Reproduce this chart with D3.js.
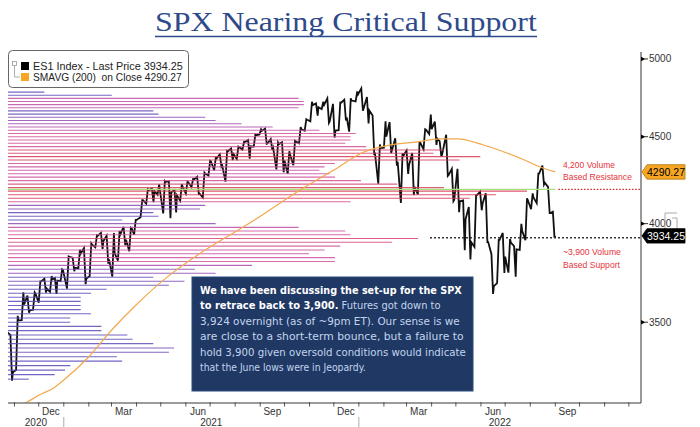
<!DOCTYPE html>
<html>
<head>
<meta charset="utf-8">
<script src="https://cdn.jsdelivr.net/npm/d3@7"></script>
<style>
body { margin: 0; background: #fff; }
svg { display: block; }
text { font-family: "Liberation Sans", Arial, sans-serif; }
</style>
</head>
<body>
<script>
//Width and height
const w = 700;
const h = 427;

//ES1 weekly bars (week ending date, high, low, close)
const startDate = "2020-10-23";
const startClose = 3453;
const weekEnd = ["2020-10-30","2020-11-06","2020-11-13","2020-11-20","2020-11-27","2020-12-04","2020-12-11","2020-12-18","2020-12-24","2020-12-31",
  "2021-01-08","2021-01-15","2021-01-22","2021-01-29","2021-02-05","2021-02-12","2021-02-19","2021-02-26","2021-03-05","2021-03-12","2021-03-19","2021-03-26",
  "2021-04-01","2021-04-09","2021-04-16","2021-04-23","2021-04-30","2021-05-07","2021-05-14","2021-05-21","2021-05-28","2021-06-04","2021-06-11","2021-06-18","2021-06-25",
  "2021-07-02","2021-07-09","2021-07-16","2021-07-23","2021-07-30","2021-08-06","2021-08-13","2021-08-20","2021-08-27","2021-09-03","2021-09-10","2021-09-17","2021-09-24",
  "2021-10-01","2021-10-08","2021-10-15","2021-10-22","2021-10-29","2021-11-05","2021-11-12","2021-11-19","2021-11-26","2021-12-03","2021-12-10","2021-12-17","2021-12-23","2021-12-31",
  "2022-01-07","2022-01-14","2022-01-21","2022-01-28","2022-02-04","2022-02-11","2022-02-18","2022-02-25","2022-03-04","2022-03-11","2022-03-18","2022-03-25",
  "2022-04-01","2022-04-08","2022-04-14","2022-04-22","2022-04-29","2022-05-06","2022-05-13","2022-05-20","2022-05-27","2022-06-03","2022-06-10","2022-06-17","2022-06-24",
  "2022-07-01","2022-07-08","2022-07-15","2022-07-22","2022-07-29","2022-08-05","2022-08-12","2022-08-19","2022-08-26","2022-09-01"];
const weekHigh = [3440,3530,3645,3628,3644,3699,3712,3726,3716,3760,
  3826,3820,3861,3870,3894,3937,3950,3935,3950,3960,3983,3978,
  4020,4129,4191,4195,4218,4238,4236,4186,4220,4234,4249,4262,4286,
  4355,4372,4393,4415,4429,4440,4469,4480,4513,4545,4550,4486,4465,
  4466,4412,4475,4559,4608,4718,4708,4718,4740,4705,4713,4731,4740,4785,
  4805,4749,4631,4453,4595,4590,4490,4400,4416,4402,4465,4546,
  4637,4593,4471,4512,4308,4308,4128,4091,4158,4177,4168,3838,3913,
  3950,3918,3880,3999,4140,4167,4280,4327,4204,4065];
const weekLow = [3233,3280,3510,3545,3560,3594,3643,3647,3637,3700,
  3663,3750,3765,3685,3725,3874,3865,3789,3723,3805,3885,3853,
  3940,4035,4110,4118,4160,4056,4029,4061,4126,4167,4205,4164,4144,
  4270,4300,4321,4234,4360,4367,4422,4368,4440,4513,4457,4420,4305,
  4288,4279,4329,4460,4537,4595,4630,4672,4585,4495,4540,4600,4531,4720,
  4662,4582,4396,4222,4434,4401,4327,4114,4279,4158,4161,4424,
  4516,4450,4381,4267,4124,4062,3858,3810,3876,4073,3901,3637,3690,
  3741,3743,3722,3860,3911,4079,4113,4218,4058,3925];
const weekClose = [3270,3509,3585,3557,3638,3699,3663,3709,3703,3756,
  3824,3768,3841,3714,3887,3934,3907,3811,3842,3943,3913,3975,
  4020,4129,4185,4180,4181,4233,4174,4156,4204,4230,4247,4166,4281,
  4352,4370,4327,4412,4395,4437,4468,4442,4509,4535,4459,4433,4455,
  4357,4391,4471,4545,4605,4697,4683,4698,4595,4538,4712,4620,4726,4766,
  4677,4662,4398,4432,4501,4419,4349,4385,4329,4204,4463,4543,
  4546,4488,4393,4272,4132,4123,4024,3901,4158,4109,3901,3675,3912,
  3825,3899,3863,3962,4130,4145,4280,4228,4058,3934.25];

//200-day moving average
const smaDates = ["2020-11-02","2020-11-16","2020-12-01","2020-12-20","2021-01-01","2021-02-01","2021-03-01","2021-04-01","2021-05-10","2021-06-20",
  "2021-08-20","2021-10-21","2021-12-01","2022-01-07","2022-02-09","2022-03-14","2022-04-11","2022-05-03","2022-06-04","2022-07-03","2022-07-25","2022-08-13","2022-09-01"];
const smaValues = [3120,3140,3170,3203,3236,3340,3462,3585,3724,3846,
  4006,4188,4301,4408,4450,4469,4487,4487,4450,4402,4360,4319,4290.27];

//volume at price (relative volume, longest = 100)
const volLevels = [4780,4760,4740,4720,4700,4680,4660,4640,4620,4600,4580,4560,4540,4520,4500,4480,4460,4440,4420,4400,
  4380,4360,4340,4320,4300,4280,4260,4240,4220,4200,4180,4160,4140,4120,4100,4080,4060,4040,4020,4000,
  3980,3960,3940,3920,3900,3880,3860,3840,3820,3800,3780,3760,3740,3720,3700,3680,3660,3640,3620,3600,
  3580,3560,3540,3520,3500,3480,3460,3440,3420,3400,3380,3360,3340,3320,3300,3280,3260,3240];
const volAmounts = [7,20,56,57,57,56,28,29,38,40,45,51,60,67,66,66,65,69,84,82,
  91,87,63,61,60,62,63,68,75,84,100,94,89,66,38,37,28,29,22,40,
  56,65,66,79,74,64,61,58,63,63,47,36,40,28,34,31,19,16,14,14,
  14,14,16,12,12,18,18,23,24,28,32,31,21,22,12,11,9,4];

const pocLevel = 4190;
const supportLevel = 3924;
const lastPrice = 3934.25;
const lastSma = 4290.27;

const yTicks = [3500, 4000, 4500, 5000];
const monthLabels = ["Dec", "Mar", "Jun", "Sep"];

const noteLines = ["We have been discussing the set-up for the SPX",
  "to retrace back to 3,900. Futures got down to",
  "3,924 overnight (as of ~9pm ET). Our sense is we",
  "are close to a short-term bounce, but a failure to",
  "hold 3,900 given oversold conditions would indicate",
  "that the June lows were in Jeopardy."];
const noteBoldLen = [46, 25, 0, 0, 0, 0];
const noteEnds = [462, 441, 460, 464, 466, 366];

const parse = d3.timeParse("%Y-%m-%d");
const day = 864e5;

//scales
const x = d3.scaleTime()
  .domain([parse("2020-10-24"), parse("2022-12-16")])
  .range([8, 641]);
const y = d3.scaleLog()
  .domain([3137, 5061])
  .range([403, 50]);
const volX = d3.scaleLinear().domain([0, 100]).range([8, 527]);
const volColor = d3.scaleLinear()
  .domain([25, 45, 65, 90])
  .range(["#5a4cbc", "#a64db2", "#d6529c", "#d83a55"])
  .clamp(true);

//Create SVG element
const svg = d3.select("body").append("svg")
  .attr("width", w)
  .attr("height", h);

svg.append("clipPath").attr("id", "plot")
  .append("rect").attr("x", 8).attr("y", 50).attr("width", 633).attr("height", 353);

//fit a text element horizontally between x0 and x1
function fit(sel, x0, x1) {
  const len = sel.node().getComputedTextLength();
  const yb = +sel.attr("data-y");
  sel.attr("x", 0).attr("y", 0)
    .attr("transform", `translate(${x0},${yb}) scale(${(x1 - x0) / len},1)`);
}

//title
const title = svg.append("text")
  .attr("data-y", 31)
  .style("font-family", '"Liberation Serif", "DejaVu Serif", serif')
  .style("font-size", "28px")
  .attr("fill", "#2e4a8a")
  .text("SPX Nearing Critical Support");
fit(title, 155, 537);
svg.append("line")
  .attr("x1", 155).attr("x2", 537).attr("y1", 36.5).attr("y2", 36.5)
  .attr("stroke", "#2e4a8a").attr("stroke-width", 1.5);

const plot = svg.append("g").attr("clip-path", "url(#plot)");

//price path, one zigzag per week through its high and low
const pricePts = [[parse(startDate), startClose]];
let prev = startClose;
weekEnd.forEach(function(d, i) {
  const t = parse(d);
  const up = weekClose[i] >= prev;
  pricePts.push([new Date(+t - 3 * day), up ? weekLow[i] : weekHigh[i]]);
  pricePts.push([new Date(+t - day), up ? weekHigh[i] : weekLow[i]]);
  pricePts.push([t, weekClose[i]]);
  prev = weekClose[i];
});
plot.append("path")
  .datum(pricePts)
  .attr("fill", "none")
  .attr("stroke", "#111")
  .attr("stroke-width", 1.8)
  .attr("stroke-linejoin", "miter")
  .attr("d", d3.line().x(d => x(d[0])).y(d => y(d[1])));

//volume at price lines
plot.selectAll("line.vol")
  .data(volLevels)
  .enter()
  .append("line")
  .attr("class", "vol")
  .attr("x1", 8)
  .attr("x2", (d, i) => volX(volAmounts[i]))
  .attr("y1", d => y(d))
  .attr("y2", d => y(d))
  .attr("stroke", (d, i) => volColor(volAmounts[i]))
  .attr("stroke-width", 1.1)
  .attr("opacity", 0.85);

//point of control
const lastX = x(parse(weekEnd[weekEnd.length - 1]));
plot.append("line")
  .attr("x1", 8).attr("x2", lastX)
  .attr("y1", y(pocLevel)).attr("y2", y(pocLevel))
  .attr("stroke", "#a6e27a").attr("stroke-width", 1.3);

//moving average
plot.append("path")
  .datum(smaDates.map((d, i) => [parse(d), smaValues[i]]))
  .attr("fill", "none")
  .attr("stroke", "#f3a84a")
  .attr("stroke-width", 1.2)
  .attr("d", d3.line().curve(d3.curveMonotoneX).x(d => x(d[0])).y(d => y(d[1])));

//resistance / support markers
svg.append("line")
  .attr("x1", lastX + 3).attr("x2", 641)
  .attr("y1", y(pocLevel)).attr("y2", y(pocLevel))
  .attr("stroke", "#d9302e").attr("stroke-width", 1.4).attr("stroke-dasharray", "1.6,1.6");
svg.append("line")
  .attr("x1", 430).attr("x2", 641)
  .attr("y1", y(supportLevel)).attr("y2", y(supportLevel))
  .attr("stroke", "#333").attr("stroke-width", 1.5).attr("stroke-dasharray", "2,2");

const ann = svg.append("g")
  .style("font-family", '"Comic Sans MS", "DejaVu Sans", sans-serif')
  .style("font-size", "8.5px")
  .attr("fill", "#e8343a");
[["4,200 Volume", 168, 615], ["Based Resistance", 180, 632], ["~3,900 Volume", 255, 621], ["Based Support", 268, 620]]
  .forEach(function(a) {
    fit(ann.append("text").attr("data-y", a[1]).text(a[0]), 563, a[2]);
  });

//bottom axis
const xDomain = x.domain();
svg.append("line")
  .attr("x1", 8).attr("x2", 641).attr("y1", 403).attr("y2", 403)
  .attr("stroke", "#7a7a7a").attr("stroke-width", 1.5);
const months = d3.timeMonth.range(d3.timeMonth.ceil(xDomain[0]), xDomain[1]);
svg.selectAll("line.mtick")
  .data(months)
  .enter()
  .append("line")
  .attr("class", "mtick")
  .attr("x1", d => x(d)).attr("x2", d => x(d))
  .attr("y1", 402).attr("y2", 406.5)
  .attr("stroke", "#555").attr("stroke-width", 1);
const fmtMonth = d3.timeFormat("%b");
svg.selectAll("text.month")
  .data(months.filter(d => monthLabels.includes(fmtMonth(d)) && d3.timeMonth.offset(d, 1) <= xDomain[1]))
  .enter()
  .append("text")
  .attr("class", "month")
  .attr("x", d => x(new Date(+d + 15 * day)))
  .attr("y", 415)
  .attr("text-anchor", "middle")
  .style("font-size", "10px")
  .attr("fill", "#333")
  .text(d => fmtMonth(d));
const years = d3.timeYear.range(d3.timeYear.floor(xDomain[0]), xDomain[1]);
svg.selectAll("text.year")
  .data(years)
  .enter()
  .append("text")
  .attr("class", "year")
  .attr("x", d => (x(d3.max([d, xDomain[0]])) + x(d3.min([d3.timeYear.offset(d, 1), xDomain[1]]))) / 2)
  .attr("y", 426)
  .attr("text-anchor", "middle")
  .style("font-size", "10px")
  .attr("fill", "#333")
  .text(d => d.getFullYear());
svg.selectAll("line.ysep")
  .data(years.slice(1))
  .enter()
  .append("line")
  .attr("class", "ysep")
  .attr("x1", d => x(d)).attr("x2", d => x(d))
  .attr("y1", 417).attr("y2", 427)
  .attr("stroke", "#aaa").attr("stroke-width", 1);

//right axis
svg.append("line")
  .attr("x1", 641).attr("x2", 641).attr("y1", 52).attr("y2", 403)
  .attr("stroke", "#555").attr("stroke-width", 1.2);
const yt = svg.selectAll("g.ytick")
  .data(yTicks)
  .enter()
  .append("g")
  .attr("class", "ytick")
  .attr("transform", d => `translate(641,${y(d)})`);
yt.append("path").attr("d", "M0,-2.2L4.5,0L0,2.2Z").attr("fill", "#000");
yt.append("line").attr("x1", 4).attr("x2", 7).attr("stroke", "#333");
yt.append("text")
  .attr("x", 8).attr("dy", "0.35em")
  .style("font-size", "10px")
  .attr("fill", "#333")
  .text(d => d);

//grey tag remnant behind the last price tag
svg.append("path")
  .attr("d", "M677,213H665V229M672,218H677V230")
  .attr("fill", "none").attr("stroke", "#aaa").attr("stroke-width", 1);

//price tags
function tag(v, fill, color) {
  const g = svg.append("g").attr("transform", `translate(642,${y(v)})`);
  g.append("path")
    .attr("d", "M0,0L5,-7.2H43V7.2H5Z")
    .attr("fill", fill).attr("stroke", fill === "#000" ? "#000" : "#b37300").attr("stroke-width", 0.8);
  g.append("text")
    .attr("x", 24).attr("dy", "0.36em").attr("text-anchor", "middle")
    .style("font-size", "10.5px")
    .attr("fill", color)
    .text(d3.format(".2f")(v));
}
tag(lastSma, "#f6a623", "#000");
tag(lastPrice, "#000", "#fff");

//legend
const lg = svg.append("g");
lg.append("rect")
  .attr("x", 8.5).attr("y", 50.5).attr("width", 180).attr("height", 37).attr("rx", 4)
  .attr("fill", "#fff").attr("stroke", "#666");
lg.append("rect").attr("x", 12.5).attr("y", 61.5).attr("width", 4).attr("height", 4)
  .attr("fill", "none").attr("stroke", "#999").attr("stroke-width", 0.8);
lg.append("path").attr("d", "M14.5,66V77H20").attr("fill", "none").attr("stroke", "#999").attr("stroke-width", 0.8);
lg.append("rect").attr("x", 21).attr("y", 62).attr("width", 8).attr("height", 8).attr("fill", "#000");
lg.append("rect").attr("x", 21).attr("y", 73).attr("width", 8).attr("height", 8).attr("fill", "#f6a623");
fit(lg.append("text").attr("data-y", 70).style("font-size", "11px").attr("fill", "#222")
  .text("ES1 Index - Last Price " + d3.format(".2f")(lastPrice)), 33, 183);
fit(lg.append("text").attr("data-y", 81).style("font-size", "11px").attr("fill", "#222")
  .style("white-space", "pre")
  .text("SMAVG (200)  on Close " + d3.format(".2f")(lastSma)), 33, 182);

//commentary box
svg.append("rect")
  .attr("x", 192).attr("y", 277).attr("width", 281).attr("height", 114)
  .attr("fill", "#1f3864").attr("stroke", "#2c4a7e");
noteLines.forEach(function(line, i) {
  const t = svg.append("text")
    .attr("data-y", 294 + i * 15.4)
    .style("font-family", '"Comic Sans MS", "DejaVu Sans", sans-serif')
    .style("font-size", "10.5px")
    .style("white-space", "pre");
  const b = noteBoldLen[i];
  if (b > 0) t.append("tspan").attr("fill", "#ffffff").style("font-weight", "bold").text(line.slice(0, b));
  if (b < line.length) t.append("tspan").attr("fill", "#c3d5ee").text(line.slice(b));
  fit(t, 200, noteEnds[i]);
});
</script>
</body>
</html>
